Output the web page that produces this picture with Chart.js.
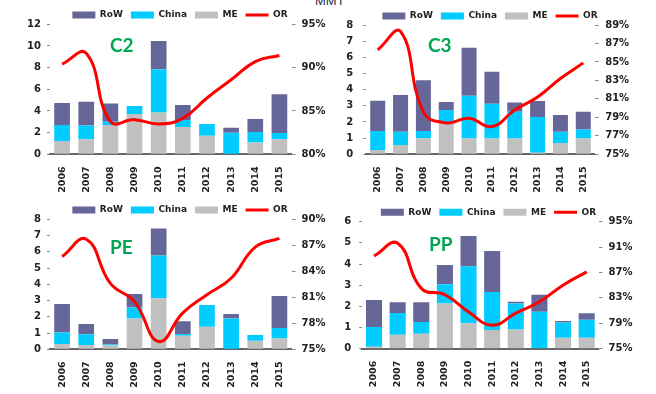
<!DOCTYPE html>
<html><head><meta charset="utf-8">
<script src="https://cdn.jsdelivr.net/npm/chart.js@4/dist/chart.umd.min.js"></script>
<style>
html,body{margin:0;padding:0;background:#fff;width:656px;height:394px;overflow:hidden;position:relative}
canvas{position:absolute}
.ttl{position:absolute;font-family:Lato;font-weight:bold;font-size:19px;color:#00A651;line-height:19px;white-space:nowrap}
#mmt{position:absolute;left:315px;top:-6px;font-family:"Liberation Sans";font-size:13px;color:#1F2F4F;line-height:13px}
</style></head><body>
<div id="mmt">MMT</div>
<canvas id="cC2" width="340" height="197" style="left:10px;top:0px"></canvas>
<canvas id="cC3" width="310" height="197" style="left:335px;top:0px"></canvas>
<canvas id="cPE" width="340" height="199" style="left:10px;top:195px"></canvas>
<canvas id="cPP" width="307" height="199" style="left:335px;top:195px"></canvas>
<div class="ttl" style="left:110px;top:35px">C2</div>
<div class="ttl" style="left:428px;top:35px">C3</div>
<div class="ttl" style="left:110px;top:237px">PE</div>
<div class="ttl" style="left:429px;top:234px">PP</div>
<script>
const years = ['2006','2007','2008','2009','2010','2011','2012','2013','2014','2015'];
const seriesNames = ['RoW','China','ME','OR'];

// C2
const c2ME    = [1.23, 1.40, 2.70, 3.72, 3.85, 2.52, 1.72, 0.00, 1.10, 1.40];
const c2China = [1.47, 1.25, 0.30, 0.74, 4.00, 0.65, 1.08, 2.00, 0.96, 0.57];
const c2RoW   = [2.04, 2.21, 1.70, 0.00, 2.61, 1.38, 0.00, 0.46, 1.20, 3.57];
const c2OR    = [90.4, 91.65, 83.8, 84.0, 83.5, 84.15, 86.5, 88.6, 90.7, 91.4];
// C3
const c3ME    = [0.27, 0.58, 0.99, 1.96, 0.97, 0.97, 0.97, 0.10, 0.70, 0.97];
const c3China = [1.17, 0.82, 0.45, 0.78, 2.66, 2.16, 1.67, 2.21, 0.70, 0.56];
const c3RoW   = [1.88, 2.27, 3.14, 0.50, 2.97, 1.98, 0.56, 0.99, 1.03, 1.11];
const c3OR    = [86.3, 88.3, 79.6, 78.4, 78.9, 78.0, 79.8, 81.2, 83.2, 84.9];
// PE
const peME    = [0.33, 0.27, 0.23, 1.89, 3.14, 0.84, 1.39, 0.00, 0.53, 0.66];
const peChina = [0.70, 0.65, 0.06, 0.69, 2.64, 0.10, 1.34, 1.89, 0.35, 0.65];
const peRoW   = [1.76, 0.64, 0.35, 0.82, 1.65, 0.78, 0.00, 0.28, 0.00, 1.97];
const peOR    = [85.7, 87.7, 82.6, 80.5, 75.9, 79.2, 81.3, 83.2, 86.8, 87.8];
// PP
const ppME    = [0.09, 0.66, 0.71, 2.13, 1.20, 0.88, 0.91, 0.00, 0.52, 0.52];
const ppChina = [0.93, 1.03, 0.55, 0.91, 2.70, 1.80, 1.23, 1.75, 0.72, 0.85];
const ppRoW   = [1.28, 0.50, 0.93, 0.91, 1.42, 1.93, 0.08, 0.80, 0.07, 0.31];
const ppOR    = [89.6, 91.6, 84.5, 83.5, 80.8, 78.7, 80.6, 82.4, 85.0, 87.1];

const COL = {RoW:'#666699', China:'#00CCFF', ME:'#C0C0C0', OR:'#FF0000'};
const tickFont = {family:'DejaVu Sans', weight:'bold', size:10};
const xTickFont = {family:'DejaVu Sans', weight:'bold', size:9.5};
const textCol = '#222';

function genLabels(chart){
  const items = Chart.defaults.plugins.legend.labels.generateLabels(chart);
  items.forEach(it => {
    if (it.text === 'OR') { it.pointStyle='line'; it.lineWidth=3; it.strokeStyle=COL.OR; it.fillStyle=COL.OR; }
    else { it.pointStyle='rect'; it.lineWidth=0; it.strokeStyle='rgba(0,0,0,0)'; }
  });
  return items.sort((a,b)=>seriesNames.indexOf(a.text)-seriesNames.indexOf(b.text));
}

function makeChart(id, me, china, row, or, c){
  new Chart(document.getElementById(id), {
    type:'bar',
    data:{
      labels: years,
      datasets:[
        {type:'line', label:'OR', data:or, yAxisID:'y1', borderColor:COL.OR, backgroundColor:COL.OR,
         borderWidth:3, pointRadius:0, tension:0.45, fill:false},
        {label:'ME', data:me, backgroundColor:COL.ME, yAxisID:'y', barPercentage:c.bar, categoryPercentage:1},
        {label:'China', data:china, backgroundColor:COL.China, yAxisID:'y', barPercentage:c.bar, categoryPercentage:1},
        {label:'RoW', data:row, backgroundColor:COL.RoW, yAxisID:'y', barPercentage:c.bar, categoryPercentage:1}
      ]
    },
    options:{
      responsive:false, animation:false, devicePixelRatio:1,
      layout:{padding:{top:c.padTop, left:0, right:0, bottom:0}},
      plugins:{
        tooltip:{enabled:false},
        legend:{position:'top', align:'center', maxHeight:c.legendH,
          labels:{usePointStyle:true, pointStyleWidth:23, boxHeight:7, padding:8,
            font:{family:'DejaVu Sans', weight:'bold', size:9}, color:textCol, generateLabels:genLabels}}
      },
      scales:{
        x:{stacked:true, offset:true,
           grid:{display:false, drawTicks:false, tickLength:0},
           border:{display:true, color:'#666', width:2},
           ticks:{font:xTickFont, color:textCol, minRotation:90, maxRotation:90, autoSkip:false, padding:12},
           afterFit:s=>{s.height=c.xH;}},
        y:{stacked:true, position:'left', min:0, max:c.yMax,
           ticks:{stepSize:c.yStep, font:tickFont, color:textCol, padding:c.lPad},
           grid:{display:true, drawOnChartArea:false, drawTicks:true, tickLength:3, color:'#888'},
           border:{display:false},
           afterFit:s=>{s.width=c.leftW;}},
        y1:{position:'right', min:c.rMin, max:c.rMax,
           ticks:{stepSize:c.rStep, font:tickFont, color:textCol, padding:c.rPad, callback:v=>v+'%'},
           grid:{display:true, drawOnChartArea:false, drawTicks:true, tickLength:4, color:'#888'},
           border:{display:false},
           afterFit:s=>{s.width=c.rightW;}}
      }
    }
  });
}

makeChart('cC2', c2ME, c2China, c2RoW, c2OR,
  {bar:0.65, padTop:2.5, legendH:21.8, xH:42.7, leftW:40, rightW:58.5, lPad:6, rPad:6,
   yMax:12, yStep:2, rMin:80, rMax:95, rStep:5});
makeChart('cC3', c3ME, c3China, c3RoW, c3OR,
  {bar:0.656, padTop:3.5, legendH:21.5, xH:42.7, leftW:31.3, rightW:50.3, lPad:10, rPad:6.5,
   yMax:8, yStep:1, rMin:75, rMax:89, rStep:2});
makeChart('cPE', peME, peChina, peRoW, peOR,
  {bar:0.65, padTop:2.5, legendH:21.8, xH:44.7, leftW:40, rightW:58.5, lPad:6, rPad:6,
   yMax:8, yStep:1, rMin:75, rMax:90, rStep:3});
makeChart('cPP', ppME, ppChina, ppRoW, ppOR,
  {bar:0.68, padTop:4.8, legendH:21.9, xH:45.3, leftW:27.2, rightW:43.5, lPad:8, rPad:6,
   yMax:6, yStep:1, rMin:75, rMax:95, rStep:4});
</script>
</body></html>
